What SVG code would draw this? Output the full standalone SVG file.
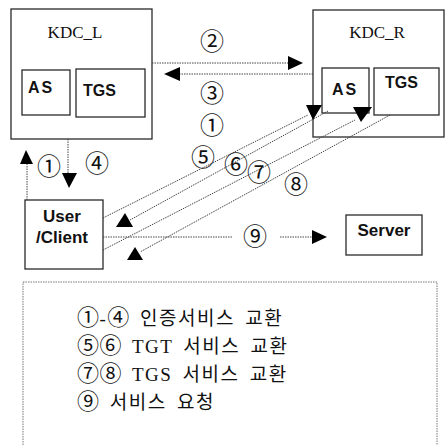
<svg xmlns="http://www.w3.org/2000/svg" width="447" height="445" viewBox="0 0 447 445">
  <style>
    .box { fill: #fff; stroke: #2a2a2a; stroke-width: 1.3; }
    .legend-box { fill: none; stroke: #777; stroke-width: 1; stroke-dasharray: 1.5 1; }
    .title { font-family: "Liberation Serif", serif; font-size: 17px; fill: #111; }
    .mod { font-family: "Liberation Sans", Arial, sans-serif; font-weight: bold; font-size: 16px; fill: #111; }
    .ent { font-family: "Liberation Sans", Arial, sans-serif; font-weight: bold; font-size: 17px; fill: #111; text-anchor: middle; }
    .num { font-family: "Liberation Serif", "Noto Sans CJK KR", serif; font-size: 24px; fill: #111; text-anchor: middle; dominant-baseline: central; }
    .leg { font-family: "Liberation Serif", "Noto Sans CJK KR", serif; font-size: 19px; fill: #111; letter-spacing: 1.5px; word-spacing: 4px; }
    .leg .c { font-size: 22px; letter-spacing: 0.5px; }
    .flow { fill: none; stroke: #444; stroke-width: 1; stroke-dasharray: 1.5 1; }
    .head { fill: #000; stroke: none; }
  </style>

  <!-- left key distribution centre -->
  <g id="kdc-l">
    <rect class="box" x="11" y="9" width="141" height="130"/>
    <text class="title" x="75" y="38" text-anchor="middle">KDC_L</text>
    <g id="kdc-l-as">
      <rect class="box" x="22" y="70" width="48" height="45"/>
      <text class="mod" x="28" y="93" letter-spacing="2">AS</text>
    </g>
    <g id="kdc-l-tgs">
      <rect class="box" x="76" y="69" width="69" height="48"/>
      <text class="mod" x="83" y="96">TGS</text>
    </g>
  </g>

  <!-- right key distribution centre -->
  <g id="kdc-r">
    <rect class="box" x="313" y="10" width="131" height="127"/>
    <text class="title" x="377" y="38" text-anchor="middle">KDC_R</text>
    <g id="kdc-r-as">
      <rect class="box" x="322" y="68" width="47" height="45"/>
      <text class="mod" x="332" y="95" letter-spacing="2">AS</text>
    </g>
    <g id="kdc-r-tgs">
      <rect class="box" x="374" y="68" width="65" height="47"/>
      <text class="mod" x="385" y="88">TGS</text>
    </g>
  </g>

  <g id="client">
    <rect class="box" x="25" y="200" width="78" height="69"/>
    <text class="ent" x="62" y="222">User</text>
    <text class="ent" x="62" y="243">/Client</text>
  </g>

  <g id="server">
    <rect class="box" x="346" y="215" width="76" height="40"/>
    <text class="ent" x="384" y="236">Server</text>
  </g>

  <!-- message flows -->
  <g id="connectors">
    <!-- 2 / 3 : KDC_L <-> KDC_R -->
    <line class="flow" x1="152" y1="63" x2="289" y2="63"/>
    <polygon class="head" points="288,56 303,63 288,70"/>
    <line class="flow" x1="313" y1="74" x2="180" y2="74"/>
    <polygon class="head" points="180,67 164,74 180,81"/>
    <!-- 1 / 4 : client <-> KDC_L -->
    <line class="flow" x1="27" y1="200" x2="27" y2="164"/>
    <polygon class="head" points="20,164 33,164 26,150"/>
    <line class="flow" x1="68" y1="139" x2="68" y2="174"/>
    <polygon class="head" points="62,173 77,173 69,188"/>
    <!-- 5 - 8 : client <-> KDC_R -->
    <line class="flow" x1="103" y1="218" x2="308" y2="115"/>
    <polygon class="head" points="306,105 322,105 313,120"/>
    <line class="flow" x1="328" y1="111" x2="130" y2="220"/>
    <polygon class="head" points="116,227 133,227 125,213"/>
    <line class="flow" x1="103" y1="250" x2="355" y2="120"/>
    <polygon class="head" points="353,107 372,107 361,122"/>
    <line class="flow" x1="390" y1="115" x2="140" y2="252"/>
    <polygon class="head" points="127,260 143,260 135,247"/>
    <!-- 9 : client -> server -->
    <line class="flow" x1="103" y1="237" x2="233" y2="237"/>
    <line class="flow" x1="280" y1="237" x2="313" y2="237"/>
    <polygon class="head" points="312,230 327,237 312,244"/>
  </g>

  <g id="step-labels">
    <text class="num" x="49" y="167">①</text>
    <text class="num" x="97" y="164">④</text>
    <text class="num" x="212" y="42">②</text>
    <text class="num" x="212" y="94">③</text>
    <text class="num" x="212" y="126">①</text>
    <text class="num" x="203" y="158">⑤</text>
    <text class="num" x="236" y="165">⑥</text>
    <text class="num" x="259" y="173">⑦</text>
    <text class="num" x="296" y="185">⑧</text>
    <text class="num" x="255" y="237">⑨</text>
  </g>

  <g id="legend">
    <rect class="legend-box" x="23" y="282" width="414" height="200"/>
    <text class="leg" x="77" y="325"><tspan class="c">①</tspan>-<tspan class="c">④</tspan> 인증서비스 교환</text>
    <text class="leg" x="77" y="353"><tspan class="c">⑤⑥</tspan> TGT 서비스 교환</text>
    <text class="leg" x="77" y="381"><tspan class="c">⑦⑧</tspan> TGS 서비스 교환</text>
    <text class="leg" x="77" y="409"><tspan class="c">⑨</tspan> 서비스 요청</text>
  </g>
</svg>
